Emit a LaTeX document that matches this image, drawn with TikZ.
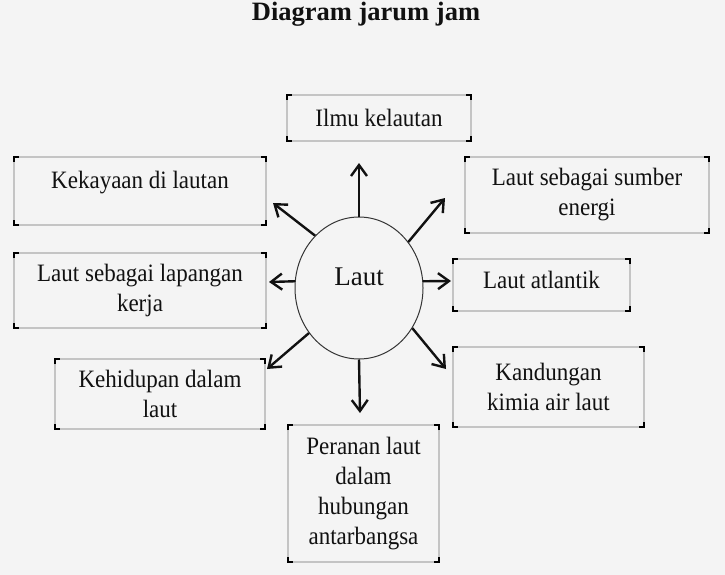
\documentclass[tikz,border=0pt]{standalone}
\usepackage{fontspec}
\setmainfont{Liberation Serif}
\newfontfamily\boxfont[FakeStretch=0.92]{Liberation Serif}
\usetikzlibrary{arrows.meta,shapes.geometric}
\definecolor{bg}{HTML}{F4F4F4}
\definecolor{boxgray}{HTML}{C4C4C4}
\definecolor{ink}{HTML}{111111}
\begin{document}
\begin{tikzpicture}[x=1pt,y=-1pt,
  bx/.style={draw=boxgray, line width=2pt, rectangle, inner sep=0pt, outer sep=0pt,
    align=center, text=ink, font=\boxfont\fontsize{25}{30}\selectfont},
  arr/.style={line width=2.4pt, draw=ink, -{Straight Barb[length=11pt,width=16pt]}},
  cornermark/.style={line width=1.5pt, draw=black}]
\fill[bg] (0,0) rectangle (725,575);
\useasboundingbox (0,0) rectangle (725,575);

\node[font=\bfseries\fontsize{26.5}{30}\selectfont, anchor=base, text=ink] (title) at (366,21) {Diagram jarum jam};

\node[ellipse, draw=ink!85, line width=1pt, minimum width=128pt, minimum height=142pt,
  inner sep=0pt, text=ink, font=\fontsize{27}{30}\selectfont, text height=18pt, text depth=24pt]
  (laut) at (359,288) {Laut};

\node[bx, minimum width=184pt, minimum height=46pt] (ilmu) at (379,118) {Ilmu kelautan};
\node[bx, minimum width=252pt, minimum height=68pt, text height=17pt, text depth=23pt] (kek) at (140,191) {Kekayaan di lautan};
\node[bx, minimum width=252pt, minimum height=75pt] (lap) at (140,290.5) {Laut sebagai lapangan\\kerja};
\node[bx, minimum width=244pt, minimum height=76pt] (sum) at (587,195) {Laut sebagai sumber\\energi};
\node[bx, minimum width=177pt, minimum height=52pt, text height=17pt, text depth=11pt] (atl) at (541.5,285) {Laut atlantik};
\node[bx, minimum width=210pt, minimum height=70pt] (keh) at (160,394) {Kehidupan dalam\\laut};
\node[bx, minimum width=191pt, minimum height=80pt] (kand) at (548.5,387) {Kandungan\\kimia air laut};
\node[bx, minimum width=151pt, minimum height=137pt] (per) at (363.5,493.5) {Peranan laut\\dalam\\hubungan\\antarbangsa};

\foreach \n in {ilmu,kek,lap,sum,atl,keh,kand,per}{
  \draw[cornermark] ([yshift=-5pt]\n.north west) -- (\n.north west) -- ([xshift=5pt]\n.north west);
  \draw[cornermark] ([yshift=-5pt]\n.north east) -- (\n.north east) -- ([xshift=-5pt]\n.north east);
  \draw[cornermark] ([yshift=5pt]\n.south west) -- (\n.south west) -- ([xshift=5pt]\n.south west);
  \draw[cornermark] ([yshift=5pt]\n.south east) -- (\n.south east) -- ([xshift=-5pt]\n.south east);
}

\coordinate (t1) at (359,163);
\coordinate (t2) at (273,203);
\coordinate (t3) at (269,282);
\coordinate (t4) at (445,198);
\coordinate (t5) at (451,281);
\coordinate (t6) at (267,369);
\coordinate (t7) at (360,413);
\coordinate (t8) at (446,369);

\draw[arr] (laut.90) -- (t1);
\draw[arr] (laut.130.8) -- (t2);
\draw[arr] (laut.174) -- (t3);
\draw[arr] (laut.43.8) -- (t4);
\draw[arr] (laut.6) -- (t5);
\draw[arr] (laut.222.8) -- (t6);
\draw[arr] (laut.270) -- (t7);
\draw[arr] (laut.323.5) -- (t8);
\end{tikzpicture}
\end{document}
